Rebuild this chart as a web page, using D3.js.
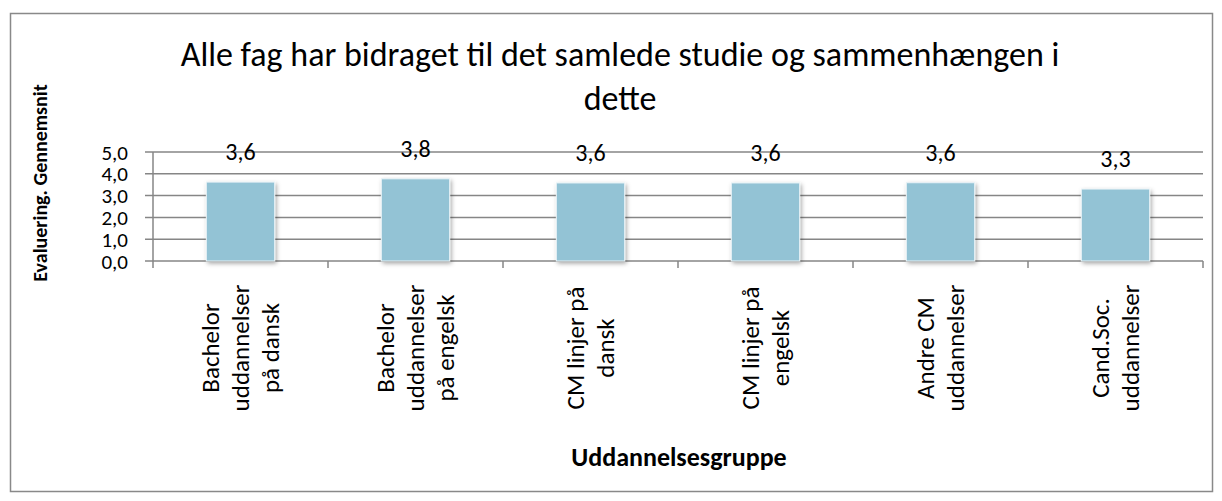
<!DOCTYPE html>
<html>
<head>
  <meta charset="utf-8">
  <script src="https://d3js.org/d3.v7.min.js"></script>
  <style>
    body { margin: 0; background: #fff; }
    text { font-family: Carlito, Calibri, Lato, sans-serif; fill: #000; }
  </style>
</head>
<body>
  <div id="chart"></div>
  <script>

  // data
  var categories = [
    ["Bachelor", "uddannelser", "på dansk"],
    ["Bachelor", "uddannelser", "på engelsk"],
    ["CM linjer på", "dansk"],
    ["CM linjer på", "engelsk"],
    ["Andre CM", "uddannelser"],
    ["Cand.Soc.", "uddannelser"]
  ];
  var values = [3.62, 3.77, 3.58, 3.58, 3.59, 3.30];
  var yTicks = [0, 1, 2, 3, 4, 5];
  var titleLines = ["Alle fag har bidraget til det samlede studie og sammenhængen i", "dette"];
  var yTitle = "Evaluering. Gennemsnit";
  var xTitle = "Uddannelsesgruppe";

  var width = 1222,
      height = 501,
      margin = {top: 152, right: 19, bottom: 240, left: 153};

  var fmt = function(v) { return d3.format(".1f")(v).replace(".", ","); };

  var svg = d3.select("#chart").append("svg")
    .attr("width", width)
    .attr("height", height);

  // drop shadow for the bars
  var defs = svg.append("defs");
  var filter = defs.append("filter")
    .attr("id", "shadow")
    .attr("x", "-20%").attr("y", "-10%")
    .attr("width", "140%").attr("height", "130%");
  filter.append("feDropShadow")
    .attr("dx", 1.5).attr("dy", 2)
    .attr("stdDeviation", 2)
    .attr("flood-color", "#000")
    .attr("flood-opacity", 0.35);

  // outer frame
  svg.append("rect")
    .attr("x", 10.5).attr("y", 13.5)
    .attr("width", 1202).attr("height", 478)
    .attr("fill", "#fff")
    .attr("stroke", "#898989")
    .attr("stroke-width", 1.5);

  var x = d3.scaleBand()
    .domain(d3.range(categories.length))
    .range([margin.left, width - margin.right])
    .paddingInner(0.61)
    .paddingOuter(0.305);

  var y = d3.scaleLinear()
    .domain([0, 5])
    .range([height - margin.bottom, margin.top]);

  // gridlines + y ticks
  svg.append("g")
    .selectAll("line")
    .data(yTicks)
    .enter().append("line")
    .attr("x1", margin.left - 8)
    .attr("x2", width - margin.right)
    .attr("y1", function(d) { return y(d); })
    .attr("y2", function(d) { return y(d); })
    .attr("stroke", "#868686")
    .attr("stroke-width", 1.5);

  svg.append("g")
    .selectAll("text")
    .data(yTicks)
    .enter().append("text")
    .attr("x", 128)
    .attr("y", function(d) { return y(d); })
    .attr("dy", "0.36em")
    .attr("text-anchor", "end")
    .style("font-size", "21px")
    .text(fmt);

  // y axis line
  svg.append("line")
    .attr("x1", margin.left).attr("x2", margin.left)
    .attr("y1", y(5)).attr("y2", y(0))
    .attr("stroke", "#868686")
    .attr("stroke-width", 1.5);

  // x ticks at category borders
  svg.append("g")
    .selectAll("line")
    .data(d3.range(categories.length + 1))
    .enter().append("line")
    .attr("x1", function(i) { return x.range()[0] + i * x.step(); })
    .attr("x2", function(i) { return x.range()[0] + i * x.step(); })
    .attr("y1", y(0))
    .attr("y2", y(0) + 7)
    .attr("stroke", "#868686")
    .attr("stroke-width", 1.5);

  // bars
  svg.append("g")
    .selectAll("rect")
    .data(values)
    .enter().append("rect")
    .attr("x", function(d, i) { return x(i); })
    .attr("y", function(d) { return y(d); })
    .attr("width", x.bandwidth())
    .attr("height", function(d) { return y(0) - y(d); })
    .attr("fill", "#93c3d5")
    .attr("stroke", "#e8f2f6")
    .attr("stroke-width", 1)
    .attr("filter", "url(#shadow)");

  // value labels
  svg.append("g")
    .selectAll("text")
    .data(values)
    .enter().append("text")
    .attr("x", function(d, i) { return x(i) + x.bandwidth() / 2; })
    .attr("y", function(d) { return y(d) - 22; })
    .attr("text-anchor", "middle")
    .style("font-size", "24px")
    .text(fmt);

  // category labels, rotated
  var lineH = 30;
  svg.append("g")
    .selectAll("text")
    .data(categories)
    .enter().append("text")
    .attr("transform", function(d, i) {
      var cx = x(i) + x.bandwidth() / 2;
      return "translate(" + cx + "," + 348 + ") rotate(-90)";
    })
    .attr("text-anchor", "middle")
    .style("font-size", "25px")
    .each(function(d) {
      var t = d3.select(this);
      var n = d.length;
      d.forEach(function(line, k) {
        t.append("tspan")
          .attr("x", 0)
          .attr("y", (k - (n - 1) / 2) * lineH)
          .attr("dy", "0.35em")
          .text(line);
      });
    });

  // title
  svg.append("g")
    .selectAll("text")
    .data(titleLines)
    .enter().append("text")
    .attr("x", 620)
    .attr("y", function(d, i) { return 66 + i * 44; })
    .attr("text-anchor", "middle")
    .style("font-size", "34px")
    .text(function(d) { return d; });

  // axis titles
  svg.append("text")
    .attr("transform", "translate(47,183) rotate(-90)")
    .attr("text-anchor", "middle")
    .style("font-size", "20px")
    .style("font-weight", "bold")
    .text(yTitle);

  svg.append("text")
    .attr("x", 679)
    .attr("y", 466)
    .attr("text-anchor", "middle")
    .style("font-size", "26px")
    .style("font-weight", "bold")
    .text(xTitle);

  </script>
</body>
</html>
